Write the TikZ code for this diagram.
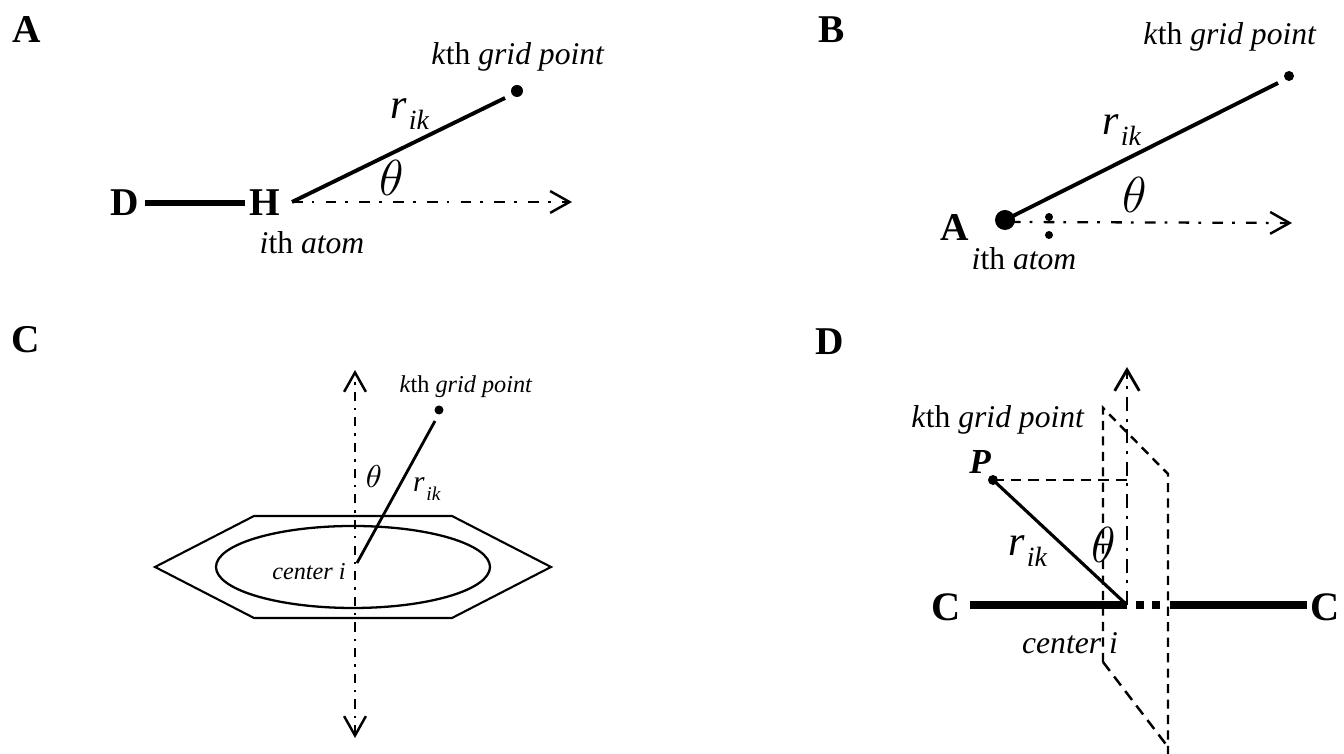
\documentclass[tikz,border=0pt]{standalone}
\usepackage{fontspec}
\setmainfont{Liberation Serif}
\usetikzlibrary{arrows.meta,calc}
\newcommand{\rik}{\textit{r}\kern0.5pt\raisebox{-0.28em}{\scalebox{0.66}{\textit{ik}}}}
\tikzset{
  paneltag/.style={font=\fontsize{11.2}{13}\selectfont\bfseries},
  atomtag/.style={font=\fontsize{11.2}{13}\selectfont\bfseries},
  gridtag/.style={font=\fontsize{9}{11}\selectfont},
  smalltag/.style={font=\fontsize{6.9}{8}\selectfont},
  rlabel/.style={font=\fontsize{12}{14}\selectfont},
  thetalabel/.style={font=\fontsize{14}{16}\selectfont},
  rod/.style={line width=1.1pt},
  bond/.style={line width=1.7pt},
  dashdot/.style={line width=0.65pt,dash pattern=on 3pt off 2.6pt on 0.8pt off 3.2pt},
  sheet/.style={line width=0.7pt,dash pattern=on 2.6pt off 1.8pt}
}
\begin{document}
\begin{tikzpicture}[>={Straight Barb[length=5.5pt,width=6.2pt,line width=0.7pt]}]
\useasboundingbox (0,0) rectangle (13.44,7.54);

% ---------------- Panel A ----------------
\node[paneltag] (tagA) at (0.27,7.24) {A};
\node[atomtag] (atomD) at (1.25,5.51) {D};
\node[atomtag] (atomH) at (2.65,5.51) {H};
\coordinate (originA) at (2.92,5.52);
\coordinate (tipA) at (5.72,5.52);
\coordinate (rodendA) at (5.05,6.56);
\fill (5.17,6.63) circle (0.06) coordinate (gridA);
\draw[bond] (atomD) ++(0.2,0) -- ($(atomH)+(-0.2,0)$);
\draw[rod] (originA) -- (rodendA);
\draw[dashdot,->] (originA) -- (tipA);
\node[gridtag] (gridlabelA) at (5.18,6.97) {\textit{k}th \textit{grid point}};
\node[rlabel] (rA) at (4.10,6.40) {\rik};
\node[thetalabel] (thetaA) at (3.92,5.76) {$\theta$};
\node[gridtag] (atomlabelA) at (3.12,5.11) {\textit{i}th \textit{atom}};

% ---------------- Panel B ----------------
\node[paneltag] (tagB) at (8.32,7.24) {B};
\node[atomtag] (atomA) at (9.55,5.26) {A};
\fill (10.05,5.34) circle (0.10) coordinate (originB);
\coordinate (tipB) at (12.92,5.31);
\coordinate (rodendB) at (12.78,6.71);
\fill (12.89,6.78) circle (0.05) coordinate (gridB);
\draw[rod] (originB) -- (rodendB);
\draw[dashdot,->] (10.10,5.32) -- (tipB);
\fill (10.49,5.37) circle (0.04) coordinate (dotupper);
\fill (10.49,5.19) circle (0.04) coordinate (dotlower);
\node[gridtag] (gridlabelB) at (12.30,7.17) {\textit{k}th \textit{grid point}};
\node[rlabel] (rB) at (11.22,6.24) {\rik};
\node[thetalabel] (thetaB) at (11.35,5.59) {$\theta$};
\node[gridtag] (atomlabelB) at (10.24,4.95) {\textit{i}th \textit{atom}};

% ---------------- Panel C ----------------
\node[paneltag] (tagC) at (0.26,4.14) {C};
\coordinate (topC) at (3.55,3.84);
\coordinate (bottomC) at (3.55,0.16);
\coordinate (centerC) at (3.57,1.91);
\coordinate (rodendC) at (4.35,3.33);
\draw[line width=0.6pt] (1.55,1.87) -- (2.54,2.38) -- (4.52,2.38) -- (5.51,1.87)
  -- (4.52,1.36) -- (2.54,1.36) -- cycle;
\draw[line width=0.65pt] (3.53,1.87) ellipse (1.37 and 0.41);
\draw[dashdot,dash pattern=on 2.6pt off 2pt on 0.7pt off 2pt,<->] (bottomC) -- (topC);
\draw[line width=0.8pt] (centerC) -- (rodendC);
\fill (4.39,3.44) circle (0.045) coordinate (gridC);
\node[smalltag] (gridlabelC) at (4.66,3.67) {\textit{k}th \textit{grid point}};
\node[rlabel,font=\fontsize{8.4}{10}\selectfont] (rC) at (4.27,2.65) {\rik};
\node[thetalabel,font=\fontsize{8.8}{10}\selectfont] (thetaC) at (3.74,2.77) {$\theta$};
\node[smalltag] (centerlabelC) at (3.09,1.82) {\textit{center i}};

% ---------------- Panel D ----------------
\node[paneltag] (tagD) at (8.30,4.12) {D};
\node[atomtag,font=\fontsize{11.5}{13}\selectfont\bfseries] (atomCl) at (9.46,1.47) {C};
\node[atomtag,font=\fontsize{11.5}{13}\selectfont\bfseries] (atomCr) at (13.25,1.47) {C};
\coordinate (centerD) at (11.27,1.49);
\coordinate (topD) at (11.27,3.87);
\coordinate (footP) at (11.30,2.74);
\fill (9.93,2.74) circle (0.05) coordinate (pointP);
\draw[bond,line width=2.4pt] (9.70,1.49) -- (centerD);
\draw[bond,line width=2.4pt,dash pattern=on 2.3pt off 2.2pt] (11.36,1.49) -- (11.63,1.49);
\draw[bond,line width=2.4pt] (11.70,1.49) -- (13.07,1.49);
\draw[sheet] (11.03,0.92) -- (11.03,3.46) -- (11.68,2.80) -- (11.68,0);
\draw[sheet,dash pattern=on 3.2pt off 2pt] (11.03,0.92) -- (11.68,0.07);
\draw[dashdot,line width=0.75pt,dash pattern=on 4pt off 2.2pt on 0.8pt off 2.2pt,
  >={Straight Barb[length=6pt,width=7pt,line width=0.8pt]},->] (centerD) -- (topD);
\draw[sheet,dash pattern=on 3pt off 2pt] (pointP) -- (footP);
\draw[line width=0.9pt] (pointP) -- (centerD);
\node[gridtag] (gridlabelD) at (9.98,3.34) {\textit{k}th \textit{grid point}};
\node[font=\fontsize{10}{12}\selectfont\bfseries\itshape] (labelP) at (9.80,2.92) {P};
\node[rlabel] (rD) at (10.28,2.03) {\rik};
\node[thetalabel] (thetaD) at (11.04,2.09) {$\theta$};
\node[gridtag] (centerlabelD) at (10.70,1.11) {\textit{center i}};

\end{tikzpicture}
\end{document}
